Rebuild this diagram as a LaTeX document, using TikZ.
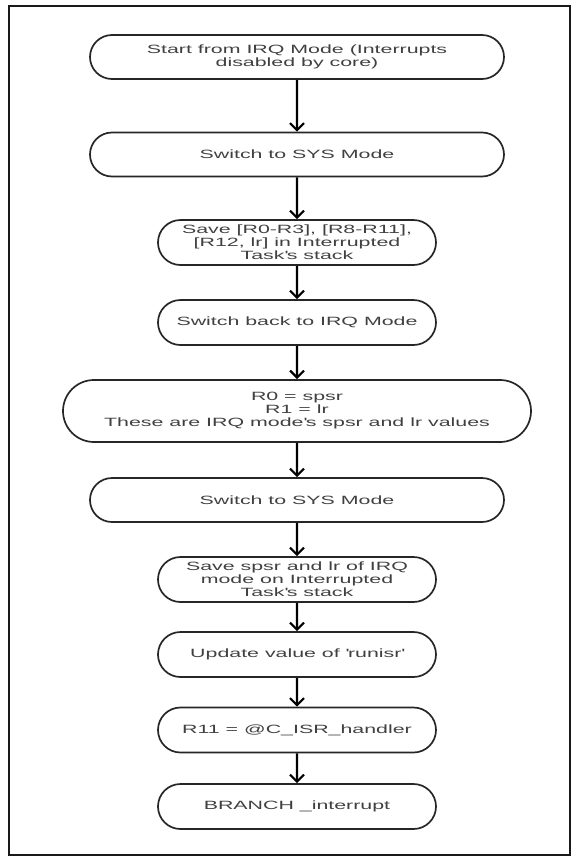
\documentclass[tikz,border=0pt]{standalone}
\usepackage{fontspec}
\setmainfont{Liberation Sans}[FakeStretch=1.78]
\usetikzlibrary{arrows.meta,shapes.misc}
\newcommand{\aps}{\textquotesingle}
\begin{document}
\begin{tikzpicture}[x=1pt,y=-1pt,
  box/.style={rounded rectangle, draw=black!85, line width=1.7pt, inner sep=0pt,
    align=center, font=\fontsize{12}{13}\selectfont, text=black!75},
  wide/.style={box, minimum width=414pt, minimum height=44pt},
  narrow/.style={box, minimum width=278pt, minimum height=45pt},
  arr/.style={line width=2.2pt, draw=black, -{Straight Barb[length=7pt,width=14pt,line width=2.2pt]}}
]
\useasboundingbox (0,0) rectangle (576,857);
\draw[line width=2.5pt, black!90] (9,6) rectangle (570,855);

\node[wide]   (n1)  at (297,57)    {Start from IRQ Mode (Interrupts\\disabled by core)};
\node[wide]   (n2)  at (297,154.5) {Switch to SYS Mode};
\node[narrow] (n3)  at (297,242.5) {Save [R0-R3], [R8-R11],\\{}[R12, lr] in Interrupted\\Task\aps s stack};
\node[narrow] (n4)  at (297,322.5) {Switch back to IRQ Mode};
\node[box, minimum width=468pt, minimum height=62pt] (n5) at (297,411)
  {R0 = spsr\\R1 = lr\\These are IRQ mode\aps s spsr and lr values};
\node[wide]   (n6)  at (297,500)   {Switch to SYS Mode};
\node[narrow] (n7)  at (297,579.5) {Save spsr and lr of IRQ\\mode on Interrupted\\Task\aps s stack};
\node[narrow] (n8)  at (297,654.5) {Update value of \aps runisr\aps};
\node[narrow] (n9)  at (297,730)   {R11 = @C\_ISR\_handler};
\node[narrow] (n10) at (297,806.5) {BRANCH \_interrupt};

\draw[arr] (n1) -- (n2);
\draw[arr] (n2) -- (n3);
\draw[arr] (n3) -- (n4);
\draw[arr] (n4) -- (n5);
\draw[arr] (n5) -- (n6);
\draw[arr] (n6) -- (n7);
\draw[arr] (n7) -- (n8);
\draw[arr] (n8) -- (n9);
\draw[arr] (n9) -- (n10);
\end{tikzpicture}
\end{document}
